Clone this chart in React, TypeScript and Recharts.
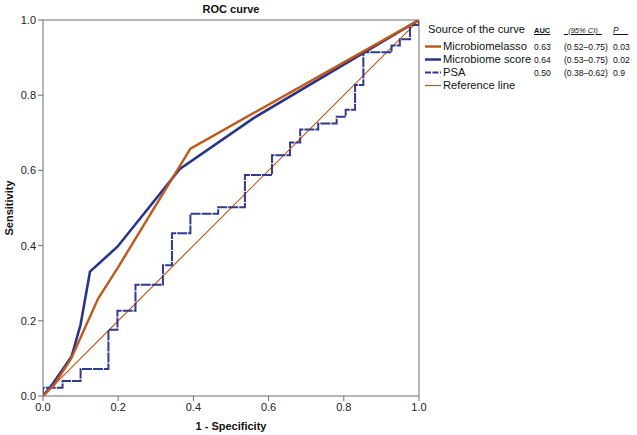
import { LineChart, Line, XAxis, YAxis, ReferenceLine } from 'recharts'

// ROC coordinates (x = 1 - specificity, y = sensitivity)
const lassoFpr = [0, 0.03, 0.075, 0.147, 0.2, 0.392, 1]
const lassoTpr = [0, 0.03, 0.1, 0.26, 0.343, 0.658, 1]

const scoreFpr = [0, 0.027, 0.076, 0.1, 0.125, 0.198, 0.364, 0.56, 1]
const scoreTpr = [0, 0.034, 0.105, 0.19, 0.331, 0.397, 0.604, 0.739, 1]

const psaFpr = [
  0, 0, 0.052, 0.052, 0.1, 0.1, 0.174, 0.174, 0.198, 0.198, 0.246, 0.246,
  0.319, 0.319, 0.343, 0.343, 0.392, 0.392, 0.466, 0.466, 0.537, 0.537,
  0.609, 0.609, 0.657, 0.657, 0.684, 0.684, 0.732, 0.732, 0.781, 0.781,
  0.805, 0.805, 0.83, 0.83, 0.852, 0.852, 0.927, 0.927, 0.949, 0.949,
  0.976, 0.976, 1, 1,
]
const psaTpr = [
  0, 0.022, 0.022, 0.04, 0.04, 0.072, 0.072, 0.176, 0.176, 0.227, 0.227,
  0.296, 0.296, 0.348, 0.348, 0.433, 0.433, 0.485, 0.485, 0.502, 0.502,
  0.588, 0.588, 0.64, 0.64, 0.674, 0.674, 0.709, 0.709, 0.725, 0.725,
  0.743, 0.743, 0.761, 0.761, 0.827, 0.827, 0.914, 0.914, 0.932, 0.932,
  0.949, 0.949, 0.987, 0.987, 1,
]

const refFpr = [0, 1]
const refTpr = [0, 1]

const axisTicks = [0, 0.2, 0.4, 0.6, 0.8, 1.0]

const curveNames = ['Microbiomelasso', 'Microbiome score', 'PSA', 'Reference line']
const curveAuc = ['0.63', '0.64', '0.50', '']
const curveCi = ['(0.52\u20130.75)', '(0.53\u20130.75)', '(0.38\u20130.62)', '']
const curveP = ['0.03', '0.02', '0.9', '']

const ORANGE = '#c0581b'
const NAVY = '#28348c'
const PSA_BLUE = '#2e3b8e'
const AXIS = '#6e6e6e'
const FONT = '"Liberation Sans", Arial, Helvetica, sans-serif'

const toPoints = (xs: number[], ys: number[]) =>
  xs.map((x, i) => ({ x, y: ys[i] }))

const lassoData = toPoints(lassoFpr, lassoTpr)
const scoreData = toPoints(scoreFpr, scoreTpr)
const psaData = toPoints(psaFpr, psaTpr)
const refData = toPoints(refFpr, refTpr)

const swatches = [
  { color: ORANGE, width: 2.5, dash: undefined },
  { color: NAVY, width: 2.5, dash: undefined },
  { color: PSA_BLUE, width: 2, dash: '6 1.5' },
  { color: ORANGE, width: 1.3, dash: undefined },
]

function RocLegend() {
  return (
    <div
      style={{
        position: 'absolute',
        left: 424,
        top: 20,
        fontFamily: FONT,
        color: '#111',
      }}
    >
      <div style={{ position: 'relative', height: 20 }}>
        <span style={{ position: 'absolute', left: 4, top: 3, fontSize: 11.2, whiteSpace: 'nowrap' }}>
          Source of the curve
        </span>
        <span style={{ position: 'absolute', left: 110, top: 6, fontSize: 7.5, fontWeight: 'bold', textDecoration: 'underline' }}>
          AUC
        </span>
        <span style={{ position: 'absolute', left: 140, top: 6, fontSize: 7.5, fontStyle: 'italic', textDecoration: 'underline', whiteSpace: 'nowrap' }}>
          {'\u00a0\u00a0(95% CI)\u00a0\u00a0'}
        </span>
        <span style={{ position: 'absolute', left: 189, top: 5, fontSize: 8.5, fontStyle: 'italic', textDecoration: 'underline', whiteSpace: 'nowrap' }}>
          {'P\u00a0\u00a0\u00a0\u00a0'}
        </span>
      </div>
      {curveNames.map((name, i) => (
        <div key={name} style={{ position: 'relative', height: 13 }}>
          <svg width={18} height={13} style={{ position: 'absolute', left: 0, top: 0 }}>
            <line
              x1={1}
              x2={17}
              y1={6.5}
              y2={6.5}
              stroke={swatches[i].color}
              strokeWidth={swatches[i].width}
              strokeDasharray={swatches[i].dash}
            />
          </svg>
          <span style={{ position: 'absolute', left: 19, top: 0, fontSize: 11.2, whiteSpace: 'nowrap' }}>
            {name}
          </span>
          <span style={{ position: 'absolute', left: 110, top: 2, fontSize: 8.6 }}>{curveAuc[i]}</span>
          <span style={{ position: 'absolute', left: 140, top: 2, fontSize: 8.6, whiteSpace: 'nowrap' }}>{curveCi[i]}</span>
          <span style={{ position: 'absolute', left: 189, top: 2, fontSize: 8.6 }}>{curveP[i]}</span>
        </div>
      ))}
    </div>
  )
}

export default function App() {
  return (
    <div
      style={{
        position: 'absolute',
        left: 0,
        top: 0,
        width: 637,
        height: 435,
        background: '#fff',
        fontFamily: FONT,
      }}
    >
      <div
        style={{
          position: 'absolute',
          left: 43,
          width: 376,
          top: 3,
          textAlign: 'center',
          fontSize: 11,
          fontWeight: 'bold',
          color: '#111',
        }}
      >
        ROC curve
      </div>
      <LineChart
        width={637}
        height={435}
        margin={{ top: 20, right: 218, bottom: 0, left: 0 }}
      >
        <XAxis
          dataKey="x"
          type="number"
          domain={[0, 1]}
          ticks={axisTicks}
          tickFormatter={(v) => Number(v).toFixed(1)}
          allowDataOverflow
          height={39}
          stroke={AXIS}
          tick={{ fill: '#222', fontSize: 11, fontFamily: FONT }}
          tickSize={5}
          label={{
            value: '1 - Specificity',
            position: 'insideBottom',
            offset: 5,
            fill: '#111',
            fontSize: 11,
            fontWeight: 'bold',
            fontFamily: FONT,
          }}
        />
        <YAxis
          dataKey="y"
          type="number"
          domain={[0, 1]}
          ticks={axisTicks}
          tickFormatter={(v) => Number(v).toFixed(1)}
          allowDataOverflow
          width={43}
          stroke={AXIS}
          tick={{ fill: '#222', fontSize: 11, fontFamily: FONT }}
          tickSize={5}
          label={{
            value: 'Sensitivity',
            angle: -90,
            position: 'insideLeft',
            offset: 9,
            style: { textAnchor: 'middle' },
            fill: '#111',
            fontSize: 11,
            fontWeight: 'bold',
            fontFamily: FONT,
          }}
        />
        <ReferenceLine y={1} stroke={AXIS} strokeWidth={1} />
        <ReferenceLine x={1} stroke={AXIS} strokeWidth={1} />
        <Line
          data={refData}
          dataKey="y"
          type="linear"
          stroke={ORANGE}
          strokeWidth={1.2}
          dot={false}
          isAnimationActive={false}
        />
        <Line
          data={psaData}
          dataKey="y"
          type="linear"
          stroke={PSA_BLUE}
          strokeWidth={2}
          strokeDasharray="10 1"
          dot={false}
          isAnimationActive={false}
        />
        <Line
          data={scoreData}
          dataKey="y"
          type="linear"
          stroke={NAVY}
          strokeWidth={2.6}
          dot={false}
          isAnimationActive={false}
        />
        <Line
          data={lassoData}
          dataKey="y"
          type="linear"
          stroke={ORANGE}
          strokeWidth={2.4}
          dot={false}
          isAnimationActive={false}
        />
      </LineChart>
      <RocLegend />
    </div>
  )
}
